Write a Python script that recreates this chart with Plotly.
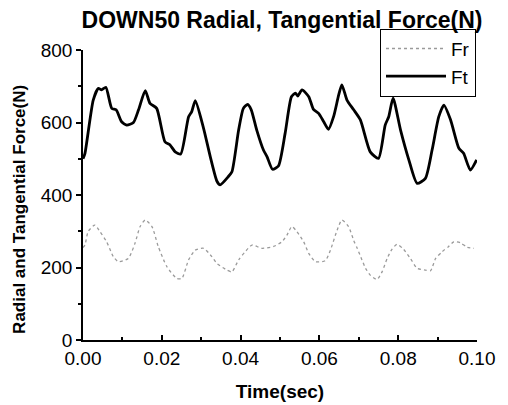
import plotly.graph_objects as go

ft_t = [0.0000, 0.0005, 0.0026, 0.0039, 0.0047, 0.0058, 0.0073, 0.0084, 0.0098, 0.0111, 0.0128,
        0.0141, 0.0158, 0.0170, 0.0187, 0.0208, 0.0221, 0.0234, 0.0248, 0.0268, 0.0276,
        0.0285, 0.0306, 0.0323, 0.0340, 0.0348, 0.0369, 0.0378, 0.0395, 0.0407, 0.0418,
        0.0427, 0.0441, 0.0458, 0.0467, 0.0481, 0.0496, 0.0513, 0.0529, 0.0539, 0.0545,
        0.0556, 0.0573, 0.0585, 0.0598, 0.0611, 0.0623, 0.0636, 0.0649, 0.0657, 0.0670,
        0.0687, 0.0704, 0.0729, 0.0750, 0.0767, 0.0776, 0.0787, 0.0806, 0.0827, 0.0848,
        0.0869, 0.0886, 0.0903, 0.0916, 0.0933, 0.0954, 0.0966, 0.0983, 0.0999]
ft_v = [500, 515, 662, 694, 690, 697, 639, 635, 602, 593, 600,
        635, 688, 653, 639, 547, 538, 519, 513, 616, 630,
        660, 584, 506, 438, 428, 451, 464, 579, 639, 650,
        635, 579, 524, 506, 471, 480, 570, 671, 681, 673,
        690, 671, 636, 625, 602, 581, 616, 676, 704, 662,
        635, 607, 519, 501, 593, 616, 667, 579, 497, 432,
        446, 524, 616, 648, 607, 529, 515, 469, 497]

fr_t = [0.0000, 0.0005, 0.0013, 0.0030, 0.0043, 0.0060, 0.0077, 0.0090, 0.0115, 0.0132, 0.0145,
        0.0158, 0.0175, 0.0191, 0.0213, 0.0238, 0.0251, 0.0268, 0.0285, 0.0306, 0.0327,
        0.0340, 0.0365, 0.0378, 0.0395, 0.0412, 0.0429, 0.0454, 0.0484, 0.0505, 0.0518,
        0.0530, 0.0543, 0.0560, 0.0573, 0.0590, 0.0615, 0.0628, 0.0645, 0.0657, 0.0674,
        0.0687, 0.0696, 0.0708, 0.0717, 0.0729, 0.0746, 0.0759, 0.0772, 0.0784, 0.0797,
        0.0814, 0.0831, 0.0848, 0.0869, 0.0882, 0.0895, 0.0912, 0.0928, 0.0941, 0.0958,
        0.0975, 0.0992]
fr_v = [255, 262, 299, 317, 299, 271, 230, 216, 225, 267, 313,
        331, 313, 258, 202, 170, 170, 221, 248, 253, 230,
        211, 193, 188, 221, 244, 262, 253, 258, 271, 290,
        313, 299, 271, 239, 216, 219, 248, 303, 331, 313,
        275, 253, 221, 198, 179, 167, 188, 225, 250, 264,
        250, 225, 198, 193, 191, 225, 244, 258, 271, 268,
        256, 253]

x_ticks = [0.00, 0.02, 0.04, 0.06, 0.08, 0.10]
x_labels = ["0.00", "0.02", "0.04", "0.06", "0.08", "0.10"]
y_ticks = [0, 200, 400, 600, 800]

fig = go.Figure()
fig.add_trace(go.Scatter(x=fr_t, y=fr_v, mode="lines", name="Fr",
                         line=dict(color="#9a9a9a", width=1.3, dash="dot", shape="spline", smoothing=0.6)))
fig.add_trace(go.Scatter(x=ft_t, y=ft_v, mode="lines", name="Ft",
                         line=dict(color="black", width=2.8, shape="spline", smoothing=0.6)))

font = "Liberation Sans, Arial, sans-serif"
fig.update_layout(
    width=500, height=397,
    margin=dict(l=75, r=31, t=42, b=65, autoexpand=False),
    paper_bgcolor="white", plot_bgcolor="white",
    font=dict(family=font, color="black", size=19),
    title=dict(text="<b>DOWN50 Radial, Tangential Force(N)</b>", x=0.548, xanchor="center",
               y=0.969, yanchor="middle", font=dict(size=23, family=font, color="black")),
    showlegend=True,
    legend=dict(xref="container", yref="container", x=0.936, xanchor="right", y=0.948, yanchor="top",
                bgcolor="white", bordercolor="black", borderwidth=1, font=dict(size=19, family=font),
                itemwidth=60, tracegroupgap=0),
    xaxis=dict(range=[0, 0.1], tickvals=x_ticks, ticktext=x_labels, showgrid=False, zeroline=False,
               automargin=False,
               showline=True, linecolor="black", linewidth=1.5, ticks="inside", ticklen=5,
               tickwidth=1.5, tickcolor="black", tickfont=dict(size=19),
               minor=dict(dtick=0.01, ticks="inside", ticklen=3, tickcolor="black", tickwidth=1.5),
               title=dict(text="<b>Time(sec)</b>", font=dict(size=19, family=font), standoff=17)),
    yaxis=dict(range=[0, 800], tickvals=y_ticks, showgrid=False, zeroline=False,
               automargin=False,
               showline=True, linecolor="black", linewidth=1.5, ticks="outside", ticklen=5,
               tickwidth=1.5, tickcolor="black", tickfont=dict(size=19),
               minor=dict(dtick=100, ticks="outside", ticklen=3, tickcolor="black", tickwidth=1.5)),
    annotations=[dict(text="<b>Radial and Tangential Force(N)</b>", textangle=-90,
                      xref="paper", yref="paper", x=-0.16, y=0.452, xanchor="center", yanchor="middle",
                      showarrow=False, font=dict(size=17, family=font, color="black"))],
)

fig.write_html("out.html")
